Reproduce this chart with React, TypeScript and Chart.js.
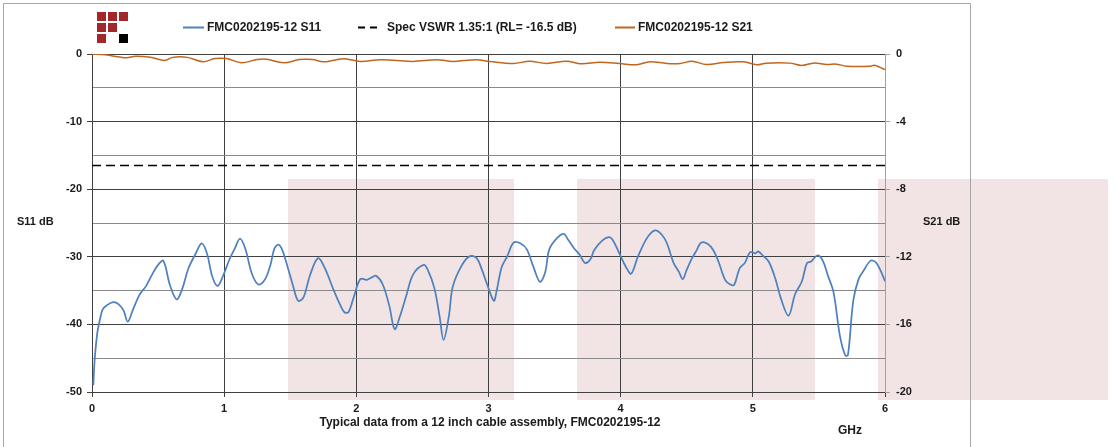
import React, { useEffect, useRef } from "react";
import { Chart, registerables } from "chart.js";

Chart.register(...registerables);

// ---- Data ----
const s11Freq = [
  0.01, 0.02, 0.04, 0.06, 0.08, 0.11, 0.16, 0.2, 0.24, 0.27, 0.31, 0.36, 0.41, 0.45, 0.5, 0.54, 0.59, 0.64, 0.68, 0.73,
  0.78, 0.83, 0.87, 0.91, 0.95, 0.99, 1.04, 1.08, 1.12, 1.16, 1.21, 1.26, 1.31, 1.35, 1.38, 1.41, 1.44, 1.48, 1.52,
  1.56, 1.6, 1.65, 1.71, 1.76, 1.83, 1.88, 1.91, 1.94, 1.98, 2.03, 2.08, 2.12, 2.15, 2.2, 2.25, 2.29, 2.33, 2.38, 2.43,
  2.51, 2.54, 2.59, 2.63, 2.66, 2.7, 2.73, 2.8, 2.86, 2.91, 2.95, 2.99, 3.04, 3.06, 3.1, 3.14, 3.19, 3.24, 3.29, 3.34,
  3.39, 3.43, 3.46, 3.52, 3.57, 3.6, 3.65, 3.69, 3.73, 3.77, 3.8, 3.86, 3.91, 3.94, 3.99, 4.04, 4.08, 4.13, 4.2, 4.26,
  4.31, 4.35, 4.4, 4.44, 4.47, 4.5, 4.54, 4.57, 4.61, 4.66, 4.7, 4.74, 4.79, 4.83, 4.86, 4.9, 4.94, 4.98, 5.02, 5.04,
  5.08, 5.12, 5.17, 5.21, 5.27, 5.32, 5.37, 5.41, 5.44, 5.49, 5.53, 5.57, 5.61, 5.66, 5.7, 5.72, 5.76, 5.8, 5.84, 5.89,
  5.93, 5.97, 6.0,
];
const s11Values = [
  -49.0, -45.3, -41.3, -39.3, -37.8, -37.2, -36.7, -37.0, -38.0, -39.6, -37.8, -35.6, -34.3, -32.8, -31.2, -30.6, -34.2,
  -36.3, -34.9, -31.7, -29.7, -28.0, -29.5, -32.9, -34.3, -32.9, -30.4, -28.8, -27.3, -28.8, -32.5, -34.1, -33.3, -31.2,
  -28.8, -28.2, -29.0, -31.5, -34.2, -36.5, -36.0, -32.7, -30.2, -31.6, -35.0, -37.2, -38.2, -38.2, -36.0, -33.3, -33.4,
  -33.0, -32.8, -34.1, -37.3, -40.7, -38.8, -35.6, -32.6, -31.2, -31.9, -34.6, -38.8, -42.3, -38.8, -34.4, -31.2, -29.9,
  -30.2, -31.9, -34.1, -36.5, -35.2, -31.5, -30.0, -27.9, -28.0, -28.9, -31.5, -33.7, -32.2, -28.9, -27.2, -26.6, -27.4,
  -28.8, -29.7, -30.9, -30.4, -29.0, -27.6, -27.1, -27.5, -29.5, -31.5, -32.5, -30.0, -27.2, -26.1, -26.7, -28.0, -30.9,
  -32.2, -33.3, -31.9, -30.2, -29.2, -27.9, -28.1, -29.0, -30.7, -33.4, -34.1, -34.1, -31.7, -30.9, -29.3, -29.5, -29.2,
  -29.9, -30.7, -33.2, -36.0, -38.7, -35.5, -33.7, -30.9, -30.7, -29.8, -30.6, -32.9, -35.2, -41.8, -44.6, -44.5, -36.5,
  -33.3, -32.0, -30.6, -30.8, -32.2, -33.6,
];
const specFreq = [0, 6];
const specValues = [-16.5, -16.5];
const s21Freq = [
  0, 0.1, 0.26, 0.33, 0.44, 0.55, 0.61, 0.72, 0.84, 0.93, 1.02, 1.13, 1.25, 1.32, 1.45, 1.57, 1.67, 1.75, 1.83, 1.91,
  2.03, 2.18, 2.28, 2.43, 2.61, 2.73, 2.91, 3.01, 3.19, 3.31, 3.44, 3.59, 3.7, 3.84, 3.99, 4.12, 4.22, 4.35, 4.45, 4.54,
  4.65, 4.78, 4.93, 5.03, 5.1, 5.28, 5.37, 5.46, 5.56, 5.63, 5.71, 5.89, 5.92, 5.96, 6.0,
];
const s21Values = [
  0.0, -0.05, -0.22, -0.13, -0.19, -0.38, -0.2, -0.2, -0.46, -0.27, -0.27, -0.52, -0.33, -0.31, -0.52, -0.33, -0.33,
  -0.46, -0.37, -0.28, -0.44, -0.34, -0.37, -0.44, -0.34, -0.44, -0.34, -0.44, -0.56, -0.43, -0.56, -0.43, -0.58, -0.49,
  -0.56, -0.64, -0.46, -0.56, -0.56, -0.43, -0.62, -0.5, -0.46, -0.64, -0.54, -0.54, -0.68, -0.54, -0.62, -0.6, -0.72,
  -0.72, -0.66, -0.78, -0.92,
];
const xTicks = [0, 1, 2, 3, 4, 5, 6];
const s11Ticks = [0, -10, -20, -30, -40, -50];
const s21Ticks = [0, -4, -8, -12, -16, -20];

const seriesNames = ["FMC0202195-12 S11", "Spec VSWR 1.35:1 (RL= -16.5 dB)", "FMC0202195-12 S21"];
const xTitle = "Typical data from a 12 inch cable assembly, FMC0202195-12";
const unitLabel = "GHz";
const leftTitle = "S11 dB";
const rightTitle = "S21 dB";

// ---- Styles / layout ----
const FONT = "'Liberation Sans', Arial, sans-serif";
const BLUE = "#4F81BD";
const ORANGE = "#C0661E";
const PINK = "#F2E4E4";
const LOGO_RED = "#A3262A";
const W = 1115;
const H = 447;
const pinkBoxes = [
  { x: 288, y: 179, w: 226, h: 221 },
  { x: 577, y: 179, w: 238, h: 221 },
  { x: 878, y: 179, w: 230, h: 221 },
];

const pts = (xs: number[], ys: number[]) => xs.map((x, i) => ({ x, y: ys[i] }));

const decorPlugin = {
  id: "decor",
  beforeDraw(chart: any) {
    const ctx = chart.ctx;
    ctx.save();
    ctx.fillStyle = "#ffffff";
    ctx.fillRect(0, 0, W, H);
    ctx.fillStyle = PINK;
    pinkBoxes.forEach((b) => ctx.fillRect(b.x, b.y, b.w, b.h));
    ctx.strokeStyle = "#A6A6A6";
    ctx.lineWidth = 1;
    ctx.beginPath();
    ctx.moveTo(3.5, H + 2);
    ctx.lineTo(3.5, 3.5);
    ctx.lineTo(970.5, 3.5);
    ctx.lineTo(970.5, H + 2);
    ctx.stroke();
    ctx.restore();
  },
  afterDraw(chart: any) {
    const ctx = chart.ctx;
    ctx.save();
    const cells = [
      [0, 0, LOGO_RED], [1, 0, LOGO_RED], [2, 0, LOGO_RED],
      [0, 1, LOGO_RED], [1, 1, LOGO_RED],
      [0, 2, LOGO_RED], [2, 2, "#000000"],
    ] as [number, number, string][];
    cells.forEach(([c, r, col]) => {
      ctx.fillStyle = col;
      ctx.fillRect(97 + c * 11, 12 + r * 11, 9, 9);
    });
    ctx.font = `bold 12px ${FONT}`;
    ctx.fillStyle = "#1a1a1a";
    ctx.textBaseline = "middle";
    ctx.textAlign = "left";
    const ly = 27.5;
    ctx.lineWidth = 2;
    ctx.strokeStyle = BLUE;
    ctx.beginPath();
    ctx.moveTo(183, ly);
    ctx.lineTo(204, ly);
    ctx.stroke();
    ctx.fillText(seriesNames[0], 207, ly);
    ctx.strokeStyle = "#000";
    ctx.setLineDash([7, 5]);
    ctx.beginPath();
    ctx.moveTo(358, ly);
    ctx.lineTo(379, ly);
    ctx.stroke();
    ctx.setLineDash([]);
    ctx.fillText(seriesNames[1], 387, ly);
    ctx.strokeStyle = ORANGE;
    ctx.beginPath();
    ctx.moveTo(615, ly);
    ctx.lineTo(635, ly);
    ctx.stroke();
    ctx.fillText(seriesNames[2], 638, ly);
    ctx.font = `bold 11px ${FONT}`;
    ctx.fillText(leftTitle, 17, 222);
    ctx.fillText(rightTitle, 923, 222);
    ctx.font = `bold 12px ${FONT}`;
    ctx.textAlign = "center";
    ctx.fillText(xTitle, 490, 423);
    ctx.fillText(unitLabel, 850, 431);
    ctx.restore();
  },
};

export default function App() {
  const ref = useRef<HTMLCanvasElement>(null);
  useEffect(() => {
    document.body.style.margin = "0";
    const canvas = ref.current!;
    const tickFont = { family: FONT, size: 11, weight: "bold" as const };
    const chart = new Chart(canvas, {
      type: "line",
      data: {
        datasets: [
          {
            label: seriesNames[0],
            data: pts(s11Freq, s11Values),
            yAxisID: "y",
            borderColor: BLUE,
            borderWidth: 1.75,
            pointRadius: 0,
            tension: 0.35,
          },
          {
            label: seriesNames[1],
            data: pts(specFreq, specValues),
            yAxisID: "y",
            borderColor: "#000000",
            borderWidth: 1.5,
            borderDash: [9, 5],
            pointRadius: 0,
          },
          {
            label: seriesNames[2],
            data: pts(s21Freq, s21Values),
            yAxisID: "y2",
            borderColor: ORANGE,
            borderWidth: 1.5,
            pointRadius: 0,
            tension: 0.35,
          },
        ],
      },
      options: {
        animation: false,
        responsive: false,
        events: [],
        layout: { padding: { top: 54, left: 0, right: 0, bottom: 0 } },
        plugins: { legend: { display: false }, tooltip: { enabled: false } },
        scales: {
          x: {
            type: "linear",
            min: 0,
            max: 6,
            afterFit: (s: any) => { s.height = 55; },
            afterBuildTicks: (s: any) => { s.ticks = xTicks.map((v) => ({ value: v })); },
            ticks: { font: tickFont, color: "#1a1a1a", padding: 5, maxRotation: 0 },
            grid: { color: "#404040", lineWidth: 1, tickLength: 5, tickColor: "#404040" },
            border: { color: "#404040", width: 1 },
          },
          y: {
            type: "linear",
            position: "left",
            min: -50,
            max: 0,
            afterFit: (s: any) => { s.width = 92; },
            afterBuildTicks: (s: any) => {
              const t = [];
              for (let v = -50; v <= 0; v += 5) t.push({ value: v });
              s.ticks = t;
            },
            ticks: {
              font: tickFont,
              color: "#1a1a1a",
              padding: 5,
              callback: (v: any) => (s11Ticks.includes(Number(v)) ? String(v) : ""),
            },
            grid: {
              color: (c: any) => (c.tick && c.tick.value % 10 === 0 ? "#404040" : "#8a8a8a"),
              lineWidth: 1,
              tickLength: 5,
              tickColor: (c: any) => (c.tick && c.tick.value % 10 === 0 ? "#404040" : "rgba(0,0,0,0)"),
            },
            border: { color: "#404040", width: 1 },
          },
          y2: {
            type: "linear",
            position: "right",
            min: -20,
            max: 0,
            afterFit: (s: any) => { s.width = 230; },
            afterBuildTicks: (s: any) => { s.ticks = s21Ticks.map((v) => ({ value: v })); },
            ticks: { font: tickFont, color: "#1a1a1a", padding: 6 },
            grid: { drawOnChartArea: false, tickLength: 5, tickColor: "#A0A0A0" },
            border: { color: "#A0A0A0", width: 1 },
          },
        },
      },
      plugins: [decorPlugin],
    });
    return () => chart.destroy();
  }, []);
  return <canvas ref={ref} width={W} height={H} style={{ display: "block", width: W, height: H }} />;
}
